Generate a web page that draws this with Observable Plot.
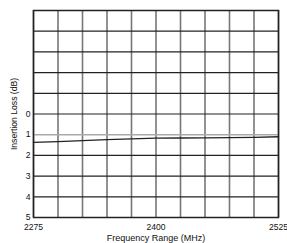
<!DOCTYPE html>
<html>
<head>
<meta charset="utf-8">
<script src="https://cdn.jsdelivr.net/npm/d3@7"></script>
<script src="https://cdn.jsdelivr.net/npm/@observablehq/plot@0.6"></script>
<style>
  html, body { margin: 0; padding: 0; background: #fff; }
  svg { display: block; }
</style>
</head>
<body>
<div id="chart"></div>
<script>
const freq = [2275, 2300, 2325, 2350, 2375, 2400, 2425, 2450, 2475, 2500, 2525];
const loss = [1.37, 1.33, 1.29, 1.24, 1.20, 1.17, 1.16, 1.15, 1.14, 1.13, 1.10];
const xTicks = [2275, 2400, 2525];
const yTicks = [0, 1, 2, 3, 4, 5];
const xGrid = d3.range(2275, 2526, 25);
const yGrid = d3.range(-5, 6, 1);

const data = freq.map((f, i) => ({f, v: loss[i]}));

const chart = Plot.plot({
  width: 287,
  height: 243,
  marginLeft: 33,
  marginRight: 9,
  marginTop: 10,
  marginBottom: 26,
  style: {fontFamily: "'Liberation Sans', Arial, sans-serif", fontSize: "9px", color: "#111", background: "#fff"},
  x: {domain: [2275, 2525]},
  y: {domain: [-5, 5], reverse: true},
  marks: [
    Plot.ruleX(xGrid, {stroke: "#777", strokeWidth: 1.6}),
    Plot.ruleY(yGrid.filter(d => d !== 1), {stroke: "#222", strokeWidth: 1.2}),
    Plot.ruleY([1], {stroke: "#aaa", strokeWidth: 1.5}),
    Plot.line(data, {x: "f", y: "v", stroke: "#222", strokeWidth: 1.3}),
    Plot.frame({stroke: "#222", strokeWidth: 1.5}),
    Plot.axisX({ticks: xTicks, tickSize: 0, tickPadding: 6, tickFormat: d => String(d), fontSize: 8.6,
      label: null}),
    Plot.axisX({ticks: [], tickSize: 0,
      label: "Frequency Range (MHz)", labelAnchor: "center", labelArrow: "none", labelOffset: 23}),
    Plot.axisY({ticks: yTicks, tickSize: 0, tickPadding: 3, tickFormat: d => String(d), fontSize: 8.6,
      label: "Insertion Loss (dB)", labelAnchor: "center", labelArrow: "none", labelOffset: 23})
  ]
});
document.getElementById("chart").appendChild(chart);
</script>
</body>
</html>
